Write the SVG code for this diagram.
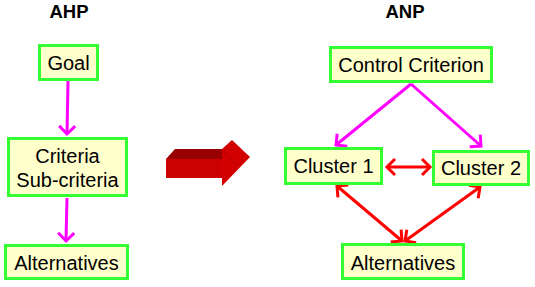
<svg xmlns="http://www.w3.org/2000/svg" width="535" height="287" viewBox="0 0 535 287">
  <style>
    .box { fill: #ffffcc; stroke: #33ff33; stroke-width: 3; }
    .lbl { font-family: "Liberation Sans", Arial, sans-serif; font-size: 20px; fill: #000; text-anchor: middle; }
    .title { font-family: "Liberation Sans", Arial, sans-serif; font-size: 18.5px; font-weight: bold; fill: #000; text-anchor: middle; }
    .mag { stroke: #ff00ff; stroke-width: 3; fill: none; }
    .red { stroke: #ff0000; stroke-width: 3; fill: none; }
  </style>
  <defs>
    <marker id="headMag" markerUnits="userSpaceOnUse" viewBox="-12 -10 14 20" markerWidth="14" markerHeight="20" refX="0" refY="0" orient="auto-start-reverse" overflow="visible">
      <path d="M-8,-8 L0,0 L-8,8" fill="none" stroke="#ff00ff" stroke-width="3"/>
    </marker>
    <marker id="headRed" markerUnits="userSpaceOnUse" viewBox="-12 -10 14 20" markerWidth="14" markerHeight="20" refX="0" refY="0" orient="auto-start-reverse" overflow="visible">
      <path d="M-8,-8 L0,0 L-8,8" fill="none" stroke="#ff0000" stroke-width="3"/>
    </marker>
  </defs>

  <!-- titles -->
  <text class="title" x="69" y="18">AHP</text>
  <text class="title" x="405" y="18">ANP</text>

  <!-- connectors -->
  <g id="connectors">
    <line class="mag" x1="68" y1="81" x2="67" y2="134" marker-end="url(#headMag)"/>
    <line class="mag" x1="67" y1="198" x2="66" y2="241" marker-end="url(#headMag)"/>
    <line class="mag" x1="411" y1="84" x2="336" y2="145" marker-end="url(#headMag)"/>
    <line class="mag" x1="411" y1="84" x2="481" y2="146" marker-end="url(#headMag)"/>
    <line class="red" x1="387" y1="167" x2="430" y2="167" marker-start="url(#headRed)" marker-end="url(#headRed)"/>
    <line class="red" x1="337" y1="186" x2="402" y2="241" marker-start="url(#headRed)" marker-end="url(#headRed)"/>
    <line class="red" x1="480" y1="187" x2="405" y2="241" marker-start="url(#headRed)" marker-end="url(#headRed)"/>
  </g>

  <!-- AHP hierarchy -->
  <g id="goal">
    <rect class="box" x="39.5" y="45.5" width="58" height="34"/>
    <text class="lbl" x="68.5" y="70">Goal</text>
  </g>
  <g id="criteria">
    <rect class="box" x="8.5" y="138.5" width="118" height="57"/>
    <text class="lbl" x="67.5" y="163">Criteria</text>
    <text class="lbl" x="67.5" y="187">Sub-criteria</text>
  </g>
  <g id="alternatives-ahp">
    <rect class="box" x="5.5" y="245.5" width="122" height="33"/>
    <text class="lbl" x="66.5" y="270">Alternatives</text>
  </g>

  <!-- transition arrow (3D block) -->
  <g id="transition">
    <polygon points="166,159 175,149 222,149 222,159" fill="#990000"/>
    <rect x="166" y="159" width="57" height="19" fill="#cc0000"/>
    <polygon points="222,149 232,140 250,157 222,186" fill="#d20000"/>
    <line x1="222" y1="149" x2="237" y2="166" stroke="#b80000" stroke-width="0.8"/>
  </g>

  <!-- ANP network -->
  <g id="control-criterion">
    <rect class="box" x="330.5" y="47.5" width="161" height="34"/>
    <text class="lbl" x="411" y="72">Control Criterion</text>
  </g>
  <g id="cluster-1">
    <rect class="box" x="285.5" y="148.5" width="96" height="35"/>
    <text class="lbl" x="333.5" y="173">Cluster 1</text>
  </g>
  <g id="cluster-2">
    <rect class="box" x="433.5" y="151.5" width="95" height="33"/>
    <text class="lbl" x="481" y="175">Cluster 2</text>
  </g>
  <g id="alternatives-anp">
    <rect class="box" x="342.5" y="244.5" width="121" height="34"/>
    <text class="lbl" x="403" y="270">Alternatives</text>
  </g>
</svg>
